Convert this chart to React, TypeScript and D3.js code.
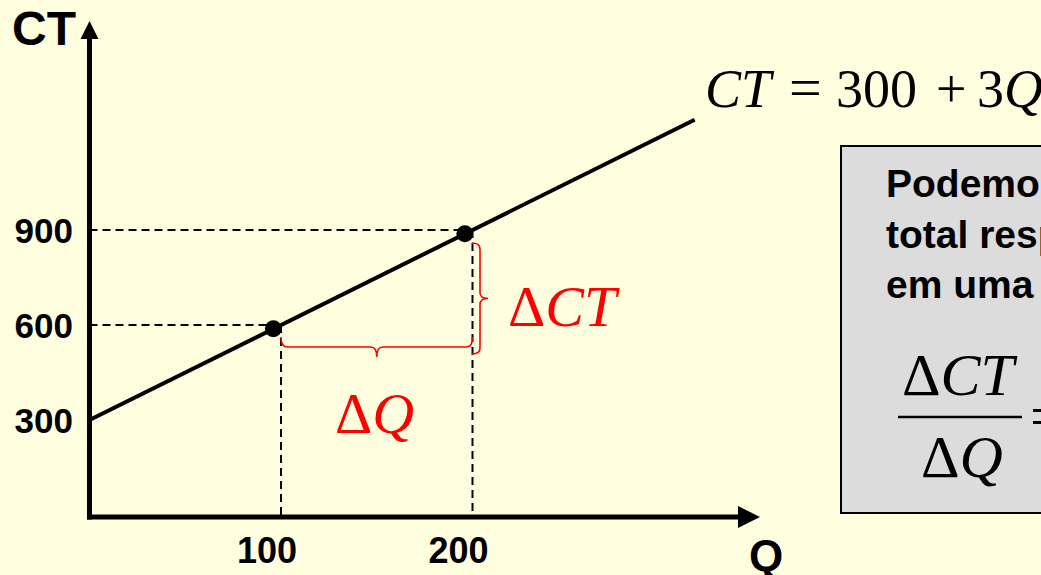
import React from "react";
import * as d3 from "d3";

// Total cost line CT = 300 + 3Q
const fixedCost = 300;
const unitCost = 3;
const lineQ = [0, 316];
const qTicks = [100, 200];
const ctTicks = [300, 600, 900];
const dotQ = [96, 196];
const bracketQ = [100, 200];

const W = 1041;
const H = 575;

const x = d3.scaleLinear().domain([0, 100]).range([89.5, 281]);
const y = d3.scaleLinear().domain([0, 300]).range([515, 420]);
const ct = (q: number) => fixedCost + unitCost * q;

const BG = "#FFFFE0";
const RED = "#FF0000";
const ARIAL = "Liberation Sans, Arial, sans-serif";
const TIMES = "Liberation Serif, Times New Roman, serif";

function hBrace(x1: number, x2: number, yy: number, d: number) {
  const m = (x1 + x2) / 2;
  const r = 6;
  return `M${x1},${yy - d} Q${x1},${yy} ${x1 + r},${yy} L${m - r},${yy} Q${m},${yy} ${m},${yy + d}` +
    ` M${m},${yy + d} Q${m},${yy} ${m + r},${yy} L${x2 - r},${yy} Q${x2},${yy} ${x2},${yy - d}`;
}

function vBrace(y1: number, y2: number, xx: number, d: number) {
  const m = (y1 + y2) / 2;
  const r = 6;
  return `M${xx - d},${y1} Q${xx},${y1} ${xx},${y1 + r} L${xx},${m - r} Q${xx},${m} ${xx + d},${m}` +
    ` M${xx + d},${m} Q${xx},${m} ${xx},${m + r} L${xx},${y2 - r} Q${xx},${y2} ${xx - d},${y2}`;
}

export default function App() {
  const line = d3
    .line<number>()
    .x((q) => x(q))
    .y((q) => y(ct(q)));

  const axisX0 = x(0);
  const axisY0 = 517;
  const xEnd = 760;
  const yTop = 21;

  const [qa, qb] = bracketQ;

  return (
    <svg
      width={W}
      height={H}
      style={{ position: "absolute", left: 0, top: 0, background: BG }}
    >
      <rect x={0} y={0} width={W} height={H} fill={BG} />

      {/* dashed guides */}
      {qTicks.map((q) => (
        <g key={q} stroke="#000" strokeWidth={2} strokeDasharray="8,5" fill="none">
          <line x1={axisX0} x2={x(q)} y1={y(ct(q))} y2={y(ct(q))} />
          <line x1={x(q)} x2={x(q)} y1={y(ct(q))} y2={axisY0} />
        </g>
      ))}

      {/* axes */}
      <line x1={axisX0} x2={axisX0} y1={axisY0 + 2.5} y2={yTop + 14} stroke="#000" strokeWidth={5} />
      <path d={`M${axisX0 - 9},${yTop + 18} L${axisX0},${yTop} L${axisX0 + 9},${yTop + 18} Z`} fill="#000" />
      <line x1={axisX0 - 2.5} x2={xEnd - 18} y1={axisY0} y2={axisY0} stroke="#000" strokeWidth={5} />
      <path d={`M${xEnd - 22},${axisY0 - 11} L${xEnd},${axisY0} L${xEnd - 22},${axisY0 + 11} Z`} fill="#000" />

      {/* cost line */}
      <path d={line(lineQ) || ""} stroke="#000" strokeWidth={4} fill="none" />

      {dotQ.map((q) => (
        <circle key={q} cx={x(q)} cy={y(ct(q))} r={8.5} fill="#000" />
      ))}

      {/* red braces */}
      <path d={hBrace(x(qa), x(qb), 347, 10)} stroke={RED} strokeWidth={1.6} fill="none" />
      <path d={vBrace(y(ct(qb)) + 13, y(ct(qa)) + 29, 480, 8)} stroke={RED} strokeWidth={1.6} fill="none" />

      <text x={508} y={326} fill={RED} fontFamily={TIMES} fontSize={58}>
        Δ<tspan fontStyle="italic">CT</tspan>
      </text>
      <text x={335} y={433} fill={RED} fontFamily={TIMES} fontSize={58}>
        Δ<tspan fontStyle="italic">Q</tspan>
      </text>

      {/* axis labels */}
      <text x={12} y={45} fontFamily={ARIAL} fontWeight="bold" fontSize={48}>CT</text>
      {ctTicks.map((v) => (
        <text key={v} x={73} y={y(v)} dy="0.37em" textAnchor="end" fontFamily={ARIAL} fontWeight="bold" fontSize={35}>
          {v}
        </text>
      ))}
      {qTicks.map((q) => (
        <text key={q} x={x(q) - 14} y={563} textAnchor="middle" fontFamily={ARIAL} fontWeight="bold" fontSize={36}>
          {q}
        </text>
      ))}
      <text x={749} y={571} fontFamily={ARIAL} fontWeight="bold" fontSize={44}>Q</text>

      {/* equation */}
      <text y={107} fontFamily={TIMES} fontSize={54}>
        <tspan x={705} fontStyle="italic">CT</tspan>
        <tspan x={789} fontSize={58}>=</tspan>
        <tspan x={836}>300</tspan>
        <tspan x={936}>+</tspan>
        <tspan x={977}>3</tspan>
        <tspan fontStyle="italic">Q</tspan>
      </text>

      {/* note box */}
      <rect x={841} y={146} width={230} height={367} fill="#DCDCDC" stroke="#000" strokeWidth={2} />
      <g fontFamily={ARIAL} fontWeight="bold" fontSize={39}>
        <text x={886} y={197}>Podemos observar que o custo</text>
        <text x={886} y={248}>total responde de forma linear</text>
        <text x={886} y={298}>em uma variação de Q</text>
      </g>
      <text x={902} y={395} fontFamily={TIMES} fontSize={60}>
        Δ<tspan fontStyle="italic">CT</tspan>
      </text>
      <line x1={898} x2={1022} y1={417} y2={417} stroke="#000" strokeWidth={2.5} />
      <text x={921} y={477} fontFamily={TIMES} fontSize={60}>
        Δ<tspan fontStyle="italic">Q</tspan>
      </text>
      <text x={1030} y={436} fontFamily={TIMES} fontSize={60}>= 3</text>
    </svg>
  );
}
